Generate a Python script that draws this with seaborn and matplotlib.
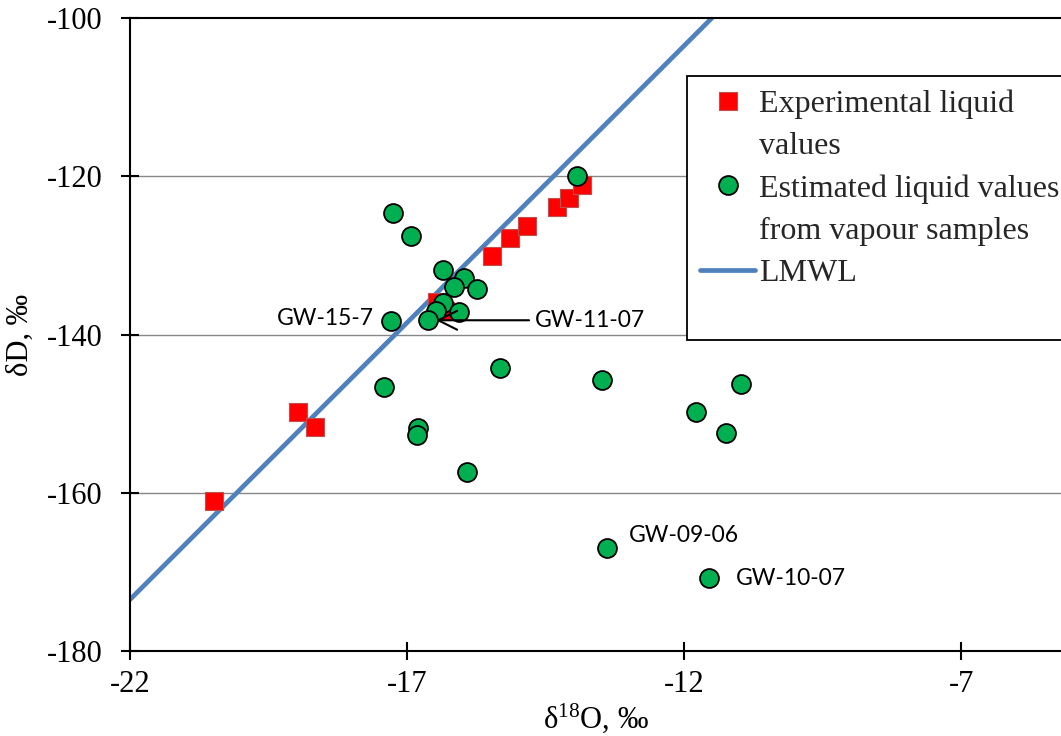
import matplotlib
matplotlib.use("Agg")
import matplotlib.pyplot as plt
from matplotlib.lines import Line2D
import numpy as np
import pandas as pd
import seaborn as sns

# Experimental liquid samples (δ18O, δD in ‰)
exp_d18O = [-20.48, -18.96, -18.66, -16.46, -16.31, -15.47, -15.14, -14.83, -14.29, -14.08, -13.84]
exp_dD = [-161.0, -149.8, -151.7, -135.9, -137.0, -130.1, -127.8, -126.3, -123.9, -122.7, -121.1]

# Liquid values estimated from vapour samples
est_d18O = [-17.25, -16.93, -16.35, -15.97, -16.16, -15.73, -16.36, -16.07, -16.48, -16.62,
            -17.29, -15.32, -13.48, -17.41, -16.80, -16.83, -15.92, -10.97, -11.79, -11.24,
            -13.40, -11.55, -13.93]
est_dD = [-124.6, -127.6, -131.9, -132.9, -134.0, -134.3, -136.0, -137.2, -137.0, -138.2,
          -138.3, -144.2, -145.8, -146.6, -151.8, -152.7, -157.4, -146.2, -149.8, -152.5,
          -167.0, -170.8, -120.0]

# Local meteoric water line: δD = slope * δ18O + intercept
lmwl_slope = 7.0
lmwl_intercept = -19.5
lmwl_d18O = [-22.0, -11.5]

# Labelled samples
label_names = ["GW-15-7", "GW-09-06", "GW-10-07"]
label_d18O = [-17.29, -13.40, -11.55]
label_dD = [-138.3, -167.0, -170.8]
arrow_name = "GW-11-07"
arrow_tip = (-16.48, -138.2)
arrow_text = (-14.69, -138.2)

x_ticks = [-22, -17, -12, -7]
y_ticks = [-180, -160, -140, -120, -100]

sns.set_theme(style="white")
plt.rcParams["font.family"] = ["Liberation Serif", "DejaVu Serif"]
plt.rcParams["mathtext.fontset"] = "custom"
plt.rcParams["mathtext.rm"] = "Liberation Serif"
plt.rcParams["mathtext.it"] = "Liberation Serif:italic"

exp_df = pd.DataFrame({"d18O": exp_d18O, "dD": exp_dD})
est_df = pd.DataFrame({"d18O": est_d18O, "dD": est_dD})
lmwl_df = pd.DataFrame({"d18O": lmwl_d18O,
                        "dD": [lmwl_slope * v + lmwl_intercept for v in lmwl_d18O]})

fig = plt.figure(figsize=(10.61, 7.36), dpi=100)
ax = fig.add_axes([130 / 1061, 85 / 736, 931 / 1061, 633 / 736])

sns.lineplot(data=lmwl_df, x="d18O", y="dD", ax=ax, color="#4F81BD", lw=3.4,
             label="LMWL", zorder=2)
sns.scatterplot(data=exp_df, x="d18O", y="dD", ax=ax, marker="s", s=180,
                color="#FF0000", edgecolor="#C0504D", linewidth=0.8,
                label="Experimental liquid values", zorder=3)
sns.scatterplot(data=est_df, x="d18O", y="dD", ax=ax, marker="o", s=185,
                color="#00B050", edgecolor="black", linewidth=1.3,
                label="Estimated liquid values", zorder=4)

ax.set_xlim(-22, -5.2)
ax.set_ylim(-180, -100)
ax.set_xticks(x_ticks)
ax.set_yticks(y_ticks)
ax.set_xticklabels([str(v) for v in x_ticks])
ax.set_yticklabels([str(v) for v in y_ticks])

for yv in y_ticks[1:-1]:
    ax.axhline(yv, color="#878787", lw=1.0, zorder=0)

for side in ["left", "bottom", "top"]:
    ax.spines[side].set_visible(True)
    ax.spines[side].set_color("black")
    ax.spines[side].set_linewidth(1.5)
ax.spines["right"].set_visible(False)

ax.tick_params(axis="both", which="major", direction="inout", length=13, width=1.5,
               colors="black", labelsize=22, bottom=True, left=True)
ax.tick_params(axis="y", pad=13)
ax.tick_params(axis="x", pad=7)

ax.set_xlabel("δ$^{\\mathrm{18}}$O, ‰", fontsize=22, color="black", labelpad=2)
ax.set_ylabel("δD, ‰", fontsize=22, color="black", labelpad=9)

# Sample annotations
ann_font = dict(family=["Lato", "DejaVu Sans"], fontsize=16.5, color="black")
offsets = {"GW-15-7": (-12, 2, "right"), "GW-09-06": (16, 9, "left"), "GW-10-07": (19, 0, "left")}
for name, xv, yv in zip(label_names, label_d18O, label_dD):
    dx, dy, ha = offsets[name]
    ax.annotate(name, xy=(xv, yv), xytext=(dx, dy), textcoords="offset points",
                ha=ha, va="center", zorder=5, **ann_font)
ax.annotate(arrow_name, xy=arrow_tip, xytext=arrow_text, ha="left", va="center",
            arrowprops=dict(arrowstyle="->", color="black", lw=1.5, shrinkB=0,
                            mutation_scale=34, relpos=(0, 0.5)),
            zorder=5, **ann_font)

# Legend
handles, labels = ax.get_legend_handles_labels()
hmap = dict(zip(labels, handles))
blank = Line2D([], [], linestyle="none", marker=None)
leg_handles = [hmap["Experimental liquid values"], blank,
               hmap["Estimated liquid values"], blank,
               hmap["LMWL"], blank]
leg_labels = ["Experimental liquid", "values",
              "Estimated liquid values", "from vapour samples",
              "LMWL", ""]
leg = ax.legend(leg_handles, leg_labels, loc="upper left",
                bbox_to_anchor=(0.598, 0.908, 0.45, 0), mode="expand",
                fontsize=23, frameon=True, fancybox=False, edgecolor="black",
                framealpha=1, borderpad=0.42, labelspacing=0.4,
                handlelength=1.72, handletextpad=0.12, borderaxespad=0,
                scatterpoints=1, scatteryoffsets=[0.5])
leg.texts[-1].set_fontsize(13)
leg.get_frame().set_linewidth(1.3)
leg.set_zorder(6)

fig.savefig("out.png", dpi=100)
